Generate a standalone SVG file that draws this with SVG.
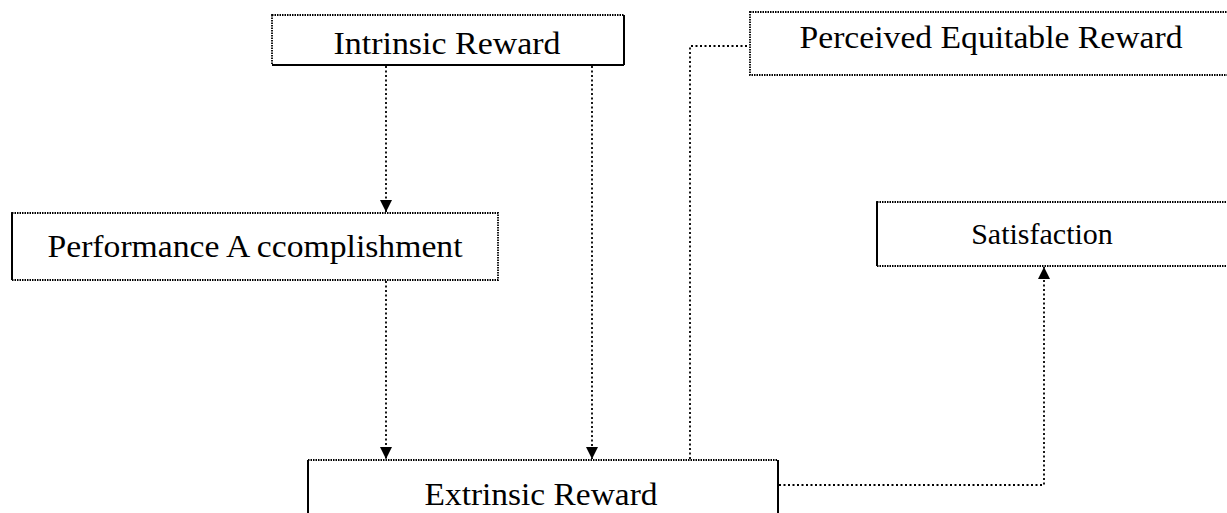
<svg xmlns="http://www.w3.org/2000/svg" width="1227" height="513" viewBox="0 0 1227 513">
<style>
.box{fill:#fff;stroke:#000;stroke-width:1.8;stroke-dasharray:1.5 1}
.edge{stroke:#000;stroke-width:2}
.lbl{font-family:"Liberation Serif","Times New Roman",serif;font-size:31px;fill:#000;text-anchor:middle}
.conn{fill:none;stroke:#000;stroke-width:1.8;stroke-dasharray:2 2.5}
</style>
<defs>
<marker id="arr" viewBox="0 0 12 12" refX="12" refY="6" markerWidth="12" markerHeight="12" markerUnits="userSpaceOnUse" orient="auto">
<path d="M0,0 L12,6 L0,12 Z" fill="#000"/>
</marker>
</defs>
<g id="connectors">
<path class="conn" d="M386,66 V212" marker-end="url(#arr)"/>
<path class="conn" d="M592,66 V459" marker-end="url(#arr)"/>
<path class="conn" d="M386,281 V459" marker-end="url(#arr)"/>
<path class="conn" d="M690,459 V46 H749"/>
<path class="conn" d="M779,485 H1044 V267" marker-end="url(#arr)"/>
</g>
<g id="intrinsic">
<rect class="box" x="272" y="15" width="352" height="50"/>
<line class="edge" x1="272" y1="65" x2="624" y2="65"/>
<line class="edge" x1="624" y1="15" x2="624" y2="65"/>
<text class="lbl" x="447" y="54" textLength="227" lengthAdjust="spacingAndGlyphs">Intrinsic Reward</text>
</g>
<g id="perceived">
<rect class="box" x="750" y="12" width="500" height="63"/>
<text class="lbl" x="991" y="48" textLength="383" lengthAdjust="spacingAndGlyphs">Perceived Equitable Reward</text>
</g>
<g id="performance">
<rect class="box" x="12" y="213" width="486" height="67"/>
<line class="edge" x1="12" y1="213" x2="12" y2="280"/>
<text class="lbl" x="255" y="257" textLength="415" lengthAdjust="spacingAndGlyphs">Performance A ccomplishment</text>
</g>
<g id="satisfaction">
<rect class="box" x="877" y="202" width="370" height="64"/>
<line class="edge" x1="877" y1="202" x2="877" y2="266"/>
<text class="lbl" x="1042" y="244" style="font-size:30px">Satisfaction</text>
</g>
<g id="extrinsic">
<rect class="box" x="308" y="460" width="470" height="70"/>
<line class="edge" x1="308" y1="460" x2="308" y2="513"/>
<line class="edge" x1="778" y1="460" x2="778" y2="513"/>
<text class="lbl" x="541" y="505" textLength="233" lengthAdjust="spacingAndGlyphs">Extrinsic Reward</text>
</g>
</svg>
